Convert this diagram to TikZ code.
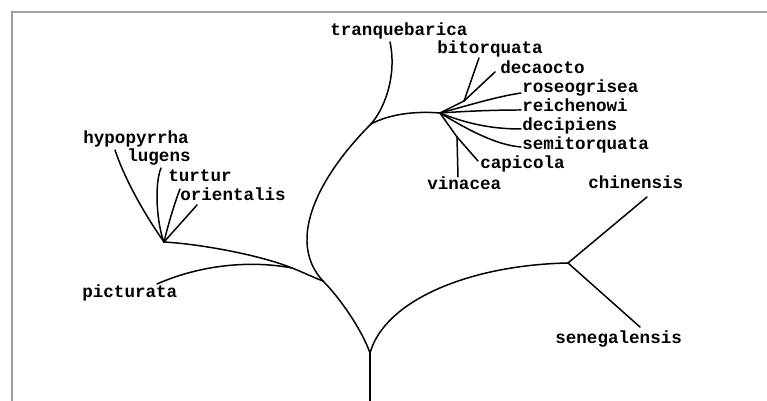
\documentclass[tikz,border=0pt]{standalone}
\usepackage{fontspec}
\setmonofont{Liberation Mono}
\begin{document}
\begin{tikzpicture}[
    x=0.2mm, y=-0.2mm,
    every node/.style={font=\ttfamily\bfseries\fontsize{10}{12}\selectfont, inner sep=0pt},
    especie/.style={anchor=mid west},
    rama/.style={line width=0.85pt, line cap=round, line join=round},
    marco/.style={line width=1pt, gray!75}
]
    \useasboundingbox (0,0) rectangle (767,401);
    \draw[marco] (767,12) -- (12,12) -- (12,401);

    % Nudos internos
    \coordinate (raiz) at (370,401);
    \coordinate (n0)   at (370,353);
    \coordinate (nA)   at (323,281);
    \coordinate (nD)   at (292,268);
    \coordinate (nE)   at (164,242);
    \coordinate (nC)   at (371,124);
    \coordinate (nF)   at (440,113);
    \coordinate (nH)   at (464,101);
    \coordinate (nG)   at (457,137);
    \coordinate (nB)   at (568,263);

    % Especies
    \node[especie] (tranquebarica) at (330,32)  {tranquebarica};
    \node[especie] (bitorquata)    at (437,50)  {bitorquata};
    \node[especie] (decaocto)      at (500,70)  {decaocto};
    \node[especie] (roseogrisea)   at (522,89)  {roseogrisea};
    \node[especie] (reichenowi)    at (522,108) {reichenowi};
    \node[especie] (decipiens)     at (522,127) {decipiens};
    \node[especie] (semitorquata)  at (522,146) {semitorquata};
    \node[especie] (capicola)      at (480,165) {capicola};
    \node[especie] (vinacea)       at (427,186) {vinacea};
    \node[especie] (hypopyrrha)    at (83,140)  {hypopyrrha};
    \node[especie] (lugens)        at (127,158) {lugens};
    \node[especie] (turtur)        at (168,178) {turtur};
    \node[especie] (orientalis)    at (180,197) {orientalis};
    \node[especie] (picturata)     at (82,294)  {picturata};
    \node[especie] (chinensis)     at (588,185) {chinensis};
    \node[especie] (senegalensis)  at (555,340) {senegalensis};

    % Puntas de las ramas
    \coordinate (p-tranq)  at (390,42);
    \coordinate (p-bitor)  at (479,58);
    \coordinate (p-decao)  at (495,72);
    \coordinate (p-roseo)  at (521,93);
    \coordinate (p-reich)  at (521,110);
    \coordinate (p-decip)  at (521,129);
    \coordinate (p-semit)  at (521,147);
    \coordinate (p-capic)  at (478,161);
    \coordinate (p-vinac)  at (458,177);
    \coordinate (p-hypop)  at (115,150);
    \coordinate (p-lugen)  at (161,168);
    \coordinate (p-turtu)  at (180,189);
    \coordinate (p-orien)  at (197,205);
    \coordinate (p-pictu)  at (157,284);
    \coordinate (p-chine)  at (647,197);
    \coordinate (p-seneg)  at (640,327);

    % Ramas
    \draw[rama] (raiz) -- (n0);
    \draw[rama] (n0) .. controls (362,330) and (340,298) .. (nA);
    \draw[rama] (nA) .. controls (285,240) and (320,175) .. (nC);
    \draw[rama] (nC) .. controls (385,108) and (397,75) .. (p-tranq);
    \draw[rama] (nC) .. controls (390,114) and (415,111) .. (nF);
    \draw[rama] (nF) -- (nH);
    \draw[rama] (nH) -- (p-bitor);
    \draw[rama] (nH) -- (p-decao);
    \draw[rama] (nF) .. controls (470,105) and (495,97) .. (p-roseo);
    \draw[rama] (nF) .. controls (470,111) and (495,110) .. (p-reich);
    \draw[rama] (nF) .. controls (470,125) and (495,129) .. (p-decip);
    \draw[rama] (nF) .. controls (465,128) and (495,145) .. (p-semit);
    \draw[rama] (nF) -- (nG);
    \draw[rama] (nG) -- (p-vinac);
    \draw[rama] (nG) -- (p-capic);

    \draw[rama] (nA) .. controls (310,276) and (300,271) .. (nD);
    \draw[rama] (nE) .. controls (200,244) and (260,255) .. (nD);
    \draw[rama] (p-pictu) .. controls (200,265) and (250,260) .. (nD);
    \draw[rama] (nE) .. controls (145,215) and (125,180) .. (p-hypop);
    \draw[rama] (nE) .. controls (157,225) and (154,185) .. (p-lugen);
    \draw[rama] (nE) .. controls (168,225) and (174,205) .. (p-turtu);
    \draw[rama] (nE) -- (p-orien);

    \draw[rama] (n0) .. controls (385,300) and (470,265) .. (nB);
    \draw[rama] (nB) -- (p-chine);
    \draw[rama] (nB) -- (p-seneg);
\end{tikzpicture}
\end{document}
